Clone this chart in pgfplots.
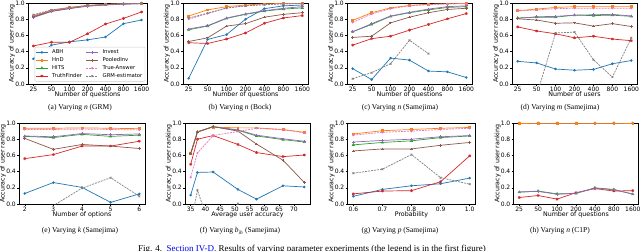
\documentclass[border=0pt]{standalone}
\usepackage{pgfplots}
\pgfplotsset{compat=1.18}
\usepackage{pgfplotstable}
\usepackage{fontspec}
\setmainfont{DejaVu Sans}
\newfontfamily\capfont{Liberation Serif}
\definecolor{c0}{HTML}{1F77B4}
\definecolor{c1}{HTML}{FF7F0E}
\definecolor{c2}{HTML}{2CA02C}
\definecolor{c3}{HTML}{D62728}
\definecolor{c4}{HTML}{9467BD}
\definecolor{c5}{HTML}{8C564B}
\definecolor{c6}{HTML}{E377C2}
\definecolor{c7}{HTML}{7F7F7F}
\definecolor{linkblue}{HTML}{0000EE}

\pgfplotstableread{
x ABH HnD HITS TF Inv PInv TA GRM
0 0.31 0.84 0.83 0.47 0.82 0.83 0.85 0.855
1 0.48 0.91 0.90 0.515 0.895 0.90 0.905 0.915
2 0.52 0.945 0.935 0.515 0.93 0.935 0.94 0.945
3 0.545 0.97 0.965 0.62 0.96 0.965 0.965 0.97
4 0.58 0.985 0.98 0.74 0.975 0.98 0.98 0.98
5 0.745 0.99 0.99 0.81 0.985 0.99 0.99 0.99
6 0.79 0.995 0.995 0.89 0.99 0.995 0.995 0.995
}\tabA
\pgfplotstableread{
x ABH HnD HITS TF Inv PInv TA GRM
0 0.07 0.84 0.67 0.51 0.68 0.525 0.80 0.815
1 0.55 0.915 0.715 0.50 0.72 0.57 0.87 0.875
2 0.61 0.955 0.81 0.555 0.815 0.715 0.935 0.94
3 0.80 0.975 0.86 0.63 0.865 0.745 0.965 0.965
4 0.93 0.99 0.90 0.75 0.905 0.825 0.98 0.98
5 0.965 0.995 0.925 0.815 0.935 0.86 0.99 0.99
6 0.975 0.995 0.94 0.845 0.955 0.88 0.99 0.995
}\tabB
\pgfplotstableread{
x ABH HnD HITS TF Inv PInv TA GRM
0 0.19 0.785 0.645 0.48 0.645 0.575 0.76 0.065
1 0.055 0.88 0.735 0.56 0.745 0.59 0.865 0.14
2 0.32 0.94 0.835 0.59 0.84 0.755 0.93 0.25
3 0.295 0.97 0.88 0.665 0.885 0.825 0.965 0.54
4 0.16 0.985 0.915 0.735 0.925 0.88 0.98 0.375
5 0.15 0.99 0.945 0.805 0.955 0.92 0.99 nan
6 0.08 0.995 0.955 0.87 0.965 0.935 0.99 nan
}\tabC
\pgfplotstableread{
x ABH HnD HITS TF Inv PInv TA GRM
0 0.28 0.905 0.815 0.705 0.81 0.805 0.90 -0.2
1 0.26 0.925 0.825 0.655 0.83 0.79 0.915 -0.14
2 0.185 0.945 0.825 0.62 0.835 0.75 0.93 0.63
3 0.17 0.955 0.85 0.57 0.85 0.755 0.935 0.64
4 0.18 0.955 0.845 0.59 0.855 0.715 0.935 0.30
5 0.25 0.955 0.85 0.555 0.86 0.745 0.935 0.085
6 0.29 0.955 0.835 0.535 0.84 0.71 0.935 0.57
}\tabD
\pgfplotstableread{
x ABH HnD HITS TF Inv PInv TA GRM
2 0.13 0.935 0.835 0.56 0.84 0.81 0.92 -0.3
3 0.265 0.935 0.82 0.61 0.83 0.675 0.92 -0.02
4 0.205 0.94 0.86 0.715 0.87 0.735 0.925 0.195
5 0.02 0.935 0.835 0.715 0.855 0.715 0.92 0.325
6 0.125 0.93 0.85 0.775 0.865 0.685 0.915 0.095
}\tabE
\pgfplotstableread{
x ABH HnD HITS TF Inv PInv TA GRM
35.0 0.11 0.63 0.62 0.49 0.62 0.62 0.33 -0.25
37.3 0.39 0.89 0.89 0.80 0.89 0.89 0.63 0.17
42.6 0.395 0.95 0.955 0.845 0.955 0.955 0.845 -0.4
51.0 0.18 0.94 0.91 0.735 0.915 0.90 0.895 0.005
57.3 0.06 0.94 0.84 0.635 0.85 0.74 0.935 -0.4
66.3 0.225 0.92 0.795 0.585 0.805 0.54 0.915 -0.5
73.5 0.21 0.885 0.765 0.605 0.775 0.265 0.88 -0.5
}\tabF
\pgfplotstableread{
x ABH HnD HITS TF Inv PInv TA GRM
0.6 0.095 0.865 0.73 0.125 0.765 0.655 0.85 0.38
0.7 0.18 0.905 0.76 0.16 0.785 0.68 0.885 0.43
0.8 0.225 0.92 0.78 0.165 0.80 0.68 0.90 0.61
0.9 0.25 0.935 0.82 0.275 0.83 0.725 0.92 0.325
1.0 0.32 0.945 0.84 0.595 0.845 0.76 0.935 0.245
}\tabG
\pgfplotstableread{
x ABH HnD HITS TF Inv PInv TA GRM
0 1.0 1.0 0.145 0.08 0.15 1.0 1.0 1.0
1 1.0 1.0 0.16 0.105 0.155 1.0 1.0 1.0
2 1.0 1.0 0.125 0.06 0.12 1.0 1.0 1.0
3 1.0 1.0 0.13 0.14 0.135 1.0 1.0 1.0
4 1.0 1.0 0.20 0.19 0.195 1.0 1.0 1.0
5 1.0 1.0 0.18 0.16 0.175 1.0 1.0 1.0
6 1.0 1.0 0.12 0.165 0.125 1.0 1.0 1.0
}\tabH

\pgfplotsset{
  panel/.style={scale only axis, anchor=south west, height=81pt,
    ymin=0, ymax=1, ytick={0,0.2,0.4,0.6,0.8,1.0},
    yticklabel style={/pgf/number format/.cd,fixed,fixed zerofill,precision=1},
    /pgf/number format/assume math mode=true,
    tick align=outside, tick pos=left, major tick length=2pt,
    every tick/.style={black,line width=0.4pt},
    axis line style={line width=0.5pt},
    tick label style={font=\fontsize{6}{7}\selectfont, inner sep=1pt},
    label style={font=\fontsize{6.3}{7}\selectfont, inner sep=1pt},
    ylabel={Accuracy of user ranking},
    ylabel shift=-2pt, xlabel shift=-2pt,
    unbounded coords=discard},
  cat/.style={xmin=-0.3, xmax=6.3, xtick={0,...,6}, xticklabels={25,50,100,200,400,800,1600}},
  base/.style={line width=0.7pt, every mark/.append style={solid}},
  ABH/.style={base, c0, mark=*, mark size=0.9pt},
  HnD/.style={base, c1, mark=square*, mark size=0.9pt},
  HITS/.style={base, c2, mark=triangle*, mark size=1.2pt},
  TF/.style={base, c3, mark=asterisk, mark size=1.4pt},
  Inv/.style={base, c4, mark=+, mark size=1.3pt},
  PInv/.style={base, c5, mark=+, mark size=1.3pt},
  TA/.style={base, c6, dash pattern=on 2pt off 1pt, mark=*, mark size=0.7pt},
  GRM/.style={base, c7, dash pattern=on 2pt off 1pt, mark=x, mark size=1.2pt},
}
\newcommand\plotall[2][]{%
  \addplot[ABH,#1] table[x=x,y=ABH]{#2};
  \addplot[HnD,#1] table[x=x,y=HnD]{#2};
  \addplot[HITS,#1] table[x=x,y=HITS]{#2};
  \addplot[TF,#1] table[x=x,y=TF]{#2};
  \addplot[Inv,#1] table[x=x,y=Inv]{#2};
  \addplot[PInv,#1] table[x=x,y=PInv]{#2};
  \addplot[TA,#1] table[x=x,y=TA]{#2};
  \addplot[GRM,#1] table[x=x,y=GRM]{#2};
}
\newcommand\subcap[3]{\node[font=\capfont\fontsize{7.5}{8}\selectfont] at (#1pt,#2pt) {#3};}

\begin{document}
\begin{tikzpicture}
\useasboundingbox (0,0) rectangle (640pt,-250pt);
\clip (0,0) rectangle (640pt,-250pt);

% (a)
\begin{axis}[panel, cat, at={(28pt,-84pt)}, width=119pt, xlabel={Number of questions},
  legend style={at={(0.985,0.03)}, anchor=south east, font=\fontsize{5.3}{5.5}\selectfont,
    draw=black!20, rounded corners=1pt, inner sep=0.6pt, row sep=-1.6pt, column sep=2pt,
    legend columns=2, legend cell align=left},
  legend image code/.code={\draw[mark repeat=2,mark phase=2,#1] plot coordinates {(0pt,0pt) (6pt,0pt) (12pt,0pt)};}]
\plotall[forget plot]{\tabA}
\addlegendimage{ABH}\addlegendentry{ABH}
\addlegendimage{Inv}\addlegendentry{Invest}
\addlegendimage{HnD}\addlegendentry{HnD}
\addlegendimage{PInv}\addlegendentry{PooledInv}
\addlegendimage{HITS}\addlegendentry{HITS}
\addlegendimage{TA}\addlegendentry{True-Answer}
\addlegendimage{TF}\addlegendentry{TruthFinder}
\addlegendimage{GRM}\addlegendentry{GRM-estimator}
\end{axis}
% (b)
\begin{axis}[panel, cat, at={(183pt,-84pt)}, width=125pt, xlabel={Number of questions}]
\plotall{\tabB}
\end{axis}
% (c)
\begin{axis}[panel, cat, at={(347pt,-84pt)}, width=125pt, xlabel={Number of questions}]
\plotall{\tabC}
\end{axis}
% (d)
\begin{axis}[panel, cat, at={(512pt,-84pt)}, width=125pt, xlabel={Number of users}]
\plotall{\tabD}
\end{axis}
% (e)
\begin{axis}[panel, at={(19pt,-204pt)}, width=126pt, xmin=1.8, xmax=6.2, xtick={2,3,4,5,6}, xlabel={Number of options}]
\plotall{\tabE}
\end{axis}
% (f)
\begin{axis}[panel, at={(185pt,-204pt)}, width=125pt, xmin=33.075, xmax=75.425, xtick={35,40,...,70}, xlabel={Average user accuracy}]
\plotall{\tabF}
\end{axis}
% (g)
\begin{axis}[panel, at={(347.5pt,-204pt)}, width=128pt, xmin=0.58, xmax=1.02, xtick={0.6,0.7,0.8,0.9,1.0},
  xticklabel style={/pgf/number format/.cd,fixed,fixed zerofill,precision=1}, xlabel={Probability}]
\plotall{\tabG}
\end{axis}
% (h)
\begin{axis}[panel, cat, at={(513.5pt,-204pt)}, width=125pt, xlabel={Number of questions}]
\plotall{\tabH}
\addplot[HnD] table[x=x,y=HnD]{\tabH};
\end{axis}

\subcap{80}{-108}{(a) Varying \textit{n} (GRM)}
\subcap{240}{-108}{(b) Varying \textit{n} (Bock)}
\subcap{400}{-108}{(c) Varying \textit{n} (Samejima)}
\subcap{560}{-108}{(d) Varying \textit{m} (Samejima)}
\subcap{80}{-231}{(e) Varying \textit{k} (Samejima)}
\subcap{240}{-231}{(f) Varying \textit{b}\textsubscript{\textit{ih}} (Samejima)}
\subcap{400}{-231}{(g) Varying \textit{p} (Samejima)}
\subcap{560}{-231}{(h) Varying \textit{n} (C1P)}
\node[font=\capfont\fontsize{9}{10}\selectfont, anchor=base] at (312pt,-251.5pt)
  {Fig. 4.\ \ \textcolor{linkblue}{Section IV-D}. Results of varying parameter experiments (the legend is in the first figure)};
\end{tikzpicture}
\end{document}
